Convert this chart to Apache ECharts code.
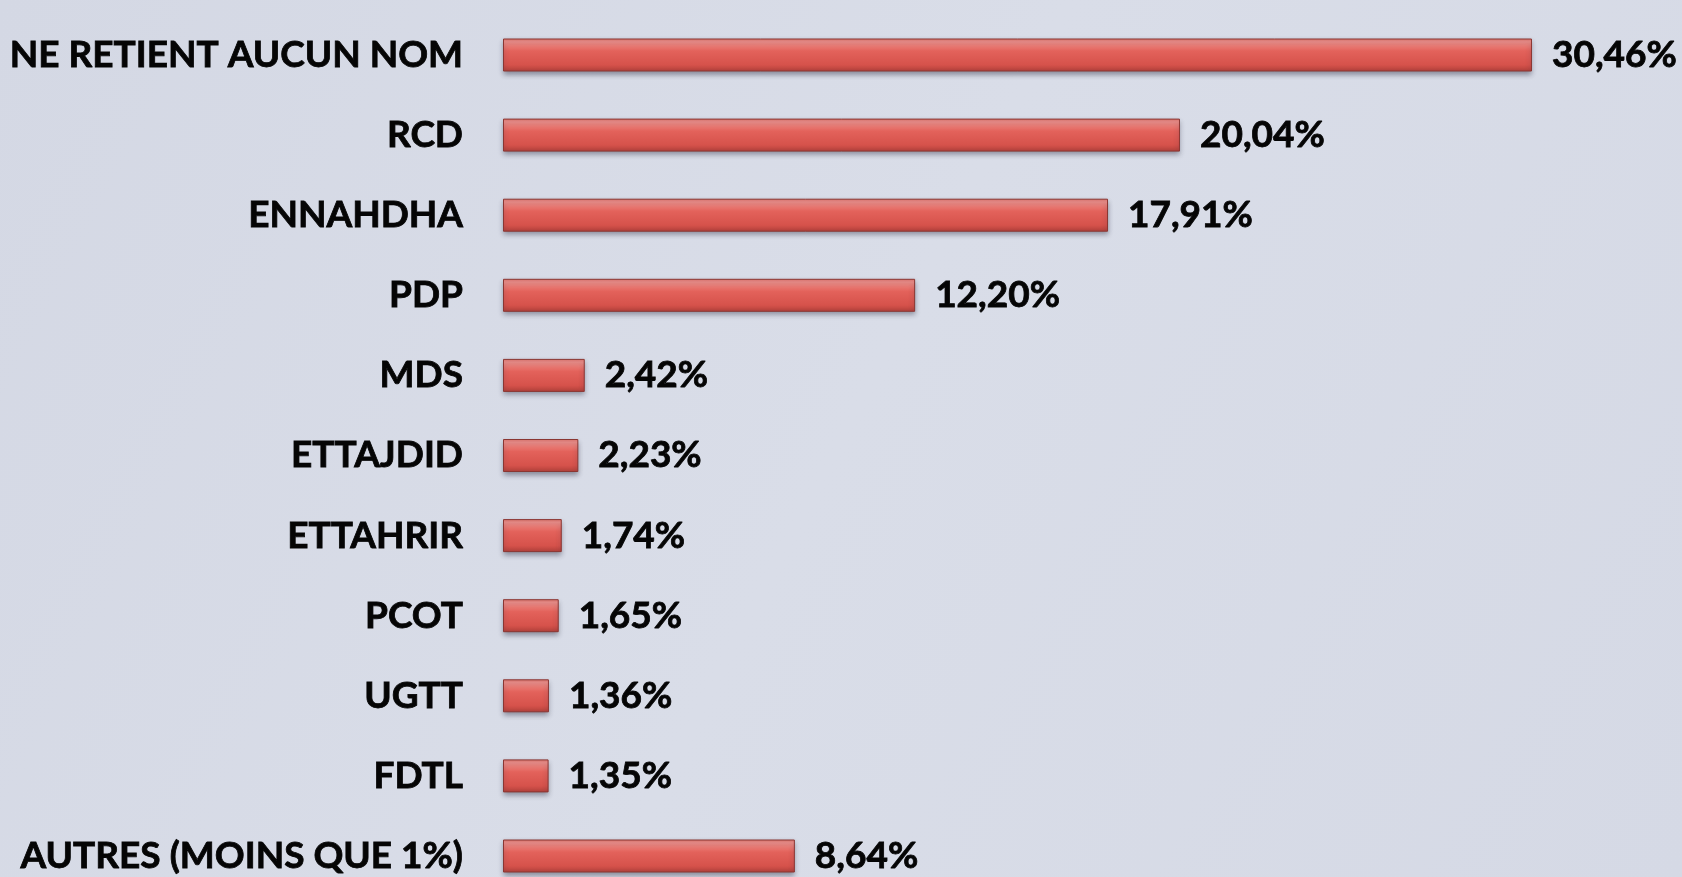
<!DOCTYPE html>
<html>
<head>
<meta charset="utf-8">
<script src="https://cdn.jsdelivr.net/npm/echarts@6/dist/echarts.min.js"></script>
<style>
  html, body { margin: 0; padding: 0; }
  #chart { width: 1682px; height: 877px; background: #d6dae6; }
</style>
</head>
<body>
<div id="chart"></div>
<script>
const partis = ['NE RETIENT AUCUN NOM', 'RCD', 'ENNAHDHA', 'PDP', 'MDS', 'ETTAJDID', 'ETTAHRIR', 'PCOT', 'UGTT', 'FDTL', 'AUTRES (MOINS QUE 1%)']
const pourcentages = [30.46, 20.04, 17.91, 12.20, 2.42, 2.23, 1.74, 1.65, 1.36, 1.35, 8.64]

const chart = echarts.init(document.getElementById('chart'))
const fontFamily = 'Lato'

const option = {
  backgroundColor: {
    type: 'linear', x: 0, y: 0, x2: 1, y2: 1,
    colorStops: [
      { offset: 0, color: '#d4d8e4' },
      { offset: 0.5, color: '#d9dde8' },
      { offset: 1, color: '#d5d9e5' }
    ]
  },
  animation: false,
  // categories sit on the ticks (boundaryGap false), first at y=55, last at y=856
  grid: {
    left: 503,
    top: 55,
    width: 1081,
    height: 801,
    outerBoundsMode: 'none'
  },
  xAxis: {
    type: 'value',
    min: 0,
    max: 32,
    show: false
  },
  yAxis: {
    type: 'category',
    data: partis,
    inverse: true,
    boundaryGap: false,
    axisLine: { show: false },
    axisTick: { show: false },
    axisLabel: {
      margin: 40,
      color: '#050505',
      fontFamily: fontFamily,
      fontWeight: 'bold',
      fontSize: 37,
      textBorderColor: '#050505',
      textBorderWidth: 0.8,
      padding: [8, 0, 0, 0]
    }
  },
  series: [
    {
      type: 'bar',
      data: pourcentages,
      barWidth: 33,
      itemStyle: {
        color: {
          type: 'linear', x: 0, y: 0, x2: 0, y2: 1,
          colorStops: [
            { offset: 0, color: '#de736c' },
            { offset: 0.1, color: '#f0908a' },
            { offset: 0.38, color: '#e3625b' },
            { offset: 0.8, color: '#d6524b' },
            { offset: 1, color: '#b0403a' }
          ]
        },
        borderColor: '#8a3632',
        borderWidth: 1,
        shadowColor: 'rgba(40, 40, 60, 0.45)',
        shadowBlur: 5,
        shadowOffsetY: 3
      },
      label: {
        show: true,
        position: 'right',
        distance: 20,
        color: '#050505',
        fontFamily: fontFamily,
        fontWeight: 'bold',
        fontSize: 37,
        textBorderColor: '#050505',
        textBorderWidth: 0.8,
        padding: [8, 0, 0, 0],
        formatter: p => p.value.toFixed(2).replace('.', ',') + '%'
      }
    }
  ]
}
chart.setOption(option)
</script>
</body>
</html>
